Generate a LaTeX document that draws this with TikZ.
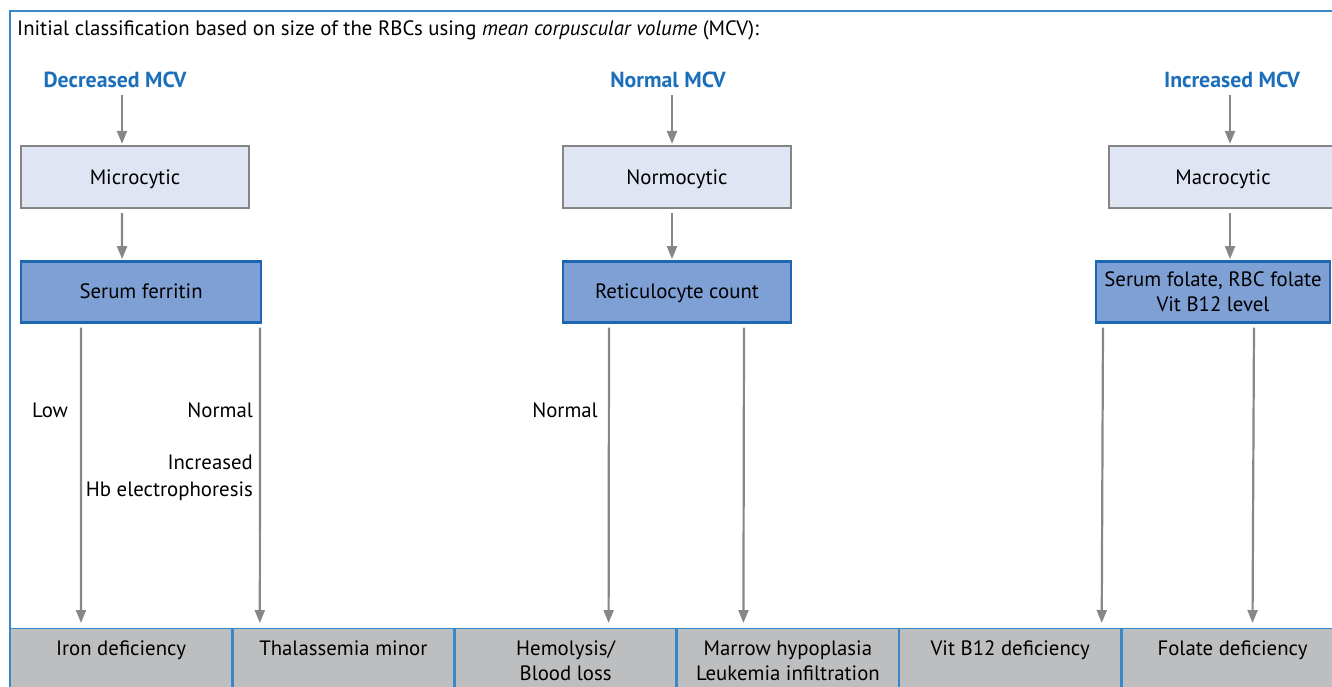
\documentclass[tikz,border=0pt]{standalone}
\usepackage{fontspec}
\setmainfont{PT Sans}
\usepackage{tikz}
\usetikzlibrary{positioning, arrows.meta}

\definecolor{framblue}{HTML}{3B88C9}
\definecolor{mcvblue}{HTML}{1B6EBA}
\definecolor{arrowgray}{HTML}{86878A}
\definecolor{boxgray}{HTML}{858585}
\definecolor{lightbox}{HTML}{E0E5F3}
\definecolor{testfill}{HTML}{7FA0D4}
\definecolor{testborder}{HTML}{1F66B1}
\definecolor{cellgray}{HTML}{BDBEC0}

\begin{document}
\begin{tikzpicture}[
    x = 1pt, y = -1pt,
    > = {Triangle[length = 13pt, width = 10pt]},
    font = \fontsize{20.8}{25}\selectfont,
    arr/.style = {->, draw = arrowgray, line width = 2.2pt},
    head/.style = {text = mcvblue, font = \fontsize{21.8}{25}\selectfont\bfseries},
    sizebox/.style = {rectangle, draw = boxgray, line width = 2.2pt, fill = lightbox,
                      minimum width = 228pt, minimum height = 62pt,
                      text height = 17pt, text depth = 3pt},
    testbox/.style = {rectangle, draw = testborder, line width = 2.4pt, fill = testfill,
                      minimum height = 61pt, align = center,
                      text height = 17pt, text depth = 3pt},
    cell/.style = {rectangle, draw = framblue, line width = 1.4pt, fill = cellgray,
                   minimum width = 220.9pt, inner ysep = 9pt, align = center, anchor = north},
    note/.style = {inner sep = 0pt, align = right, font = \fontsize{20.8}{27}\selectfont}
]
\useasboundingbox (0,0) rectangle (1332,686);
\clip (0,0) rectangle (1332,686);

% Frame and title
\draw[framblue, line width = 1.4pt] (1345,11) -- (10,11) -- (10,700);
\node[anchor = base west, inner sep = 0pt] (title) at (17,35)
    {Initial classification based on size of the RBCs using \textit{mean corpuscular volume} (MCV):};

% MCV groups
\node[head] (dec) at (115,80)  {Decreased MCV};
\node[head] (nor) at (668,80)  {Normal MCV};
\node[head] (inc) at (1232,80) {Increased MCV};

\node[sizebox] (micro) at (135,177)  {Microcytic};
\node[sizebox] (normo) at (677,177)  {Normocytic};
\node[sizebox] (macro) at (1223,177) {Macrocytic};

\node[testbox, minimum width = 240pt, below right = 51pt and 0pt of micro.south west] (ferritin) {Serum ferritin};
\node[testbox, minimum width = 228pt, below = 51pt of normo]                          (retic)    {Reticulocyte count};
\node[testbox, minimum width = 234pt, below = 51pt of macro, xshift = -10pt,
      text height = , text depth = ]                                                   (folatest) {Serum folate, RBC folate\\Vit B12 level};

% Diagnoses
\node[cell] (iron) at (121,628)          {Iron deficiency\strut\\\strut};
\node[cell, right = 0pt of iron]   (thal)   {Thalassemia minor\strut\\\strut};
\node[cell, right = 0pt of thal]   (hemo)   {Hemolysis/\strut\\Blood loss\strut};
\node[cell, right = 0pt of hemo]   (marrow) {Marrow hypoplasia\strut\\Leukemia infiltration\strut};
\node[cell, right = 0pt of marrow] (vitb)   {Vit B12 deficiency\strut\\\strut};
\node[cell, right = 0pt of vitb]   (folate) {Folate deficiency\strut\\\strut};

% Arrows
\draw[arr, shorten <= 4pt, shorten >= 1pt] ([xshift = 7pt]dec.south)  -- ([xshift = -13pt]micro.north);
\draw[arr, shorten <= 4pt, shorten >= 1pt] ([xshift = 4pt]nor.south)  -- ([xshift = -5pt]normo.north);
\draw[arr, shorten <= 4pt, shorten >= 1pt] ([xshift = -2pt]inc.south) -- ([xshift = 7pt]macro.north);

\draw[arr, shorten <= 4pt, shorten >= 1pt] ([xshift = -13pt]micro.south) -- ([xshift = -19pt]ferritin.north);
\draw[arr, shorten <= 4pt, shorten >= 1pt] ([xshift = -5pt]normo.south)  -- ([xshift = -5pt]retic.north);
\draw[arr, shorten <= 4pt, shorten >= 1pt] ([xshift = 7pt]macro.south)   -- ([xshift = 17pt]folatest.north);

\draw[arr, shorten <= 4pt, shorten >= 5pt] ([xshift = -60pt]ferritin.south) -- ([xshift = -40pt]iron.north)
    node[note, pos = .286, left = 12pt] {Low};
\draw[arr, shorten <= 4pt, shorten >= 5pt] ([xshift = 119pt]ferritin.south) -- ([xshift = -83.5pt]thal.north)
    node[note, pos = .286, left = 6pt] {Normal}
    node[note, pos = .507, left = 6pt] {Increased\\Hb electrophoresis};
\draw[arr, shorten <= 4pt, shorten >= 5pt] ([xshift = -68pt]retic.south) -- ([xshift = 43pt]hemo.north)
    node[note, pos = .286, left = 10pt] {Normal};
\draw[arr, shorten <= 4pt, shorten >= 5pt] ([xshift = 67pt]retic.south) -- ([xshift = -44.5pt]marrow.north);
\draw[arr, shorten <= 4pt, shorten >= 5pt] ([xshift = -110pt]folatest.south) -- ([xshift = 91.5pt]vitb.north);
\draw[arr, shorten <= 4pt, shorten >= 5pt] ([xshift = 41pt]folatest.south)   -- ([xshift = 20pt]folate.north);

\end{tikzpicture}
\end{document}
